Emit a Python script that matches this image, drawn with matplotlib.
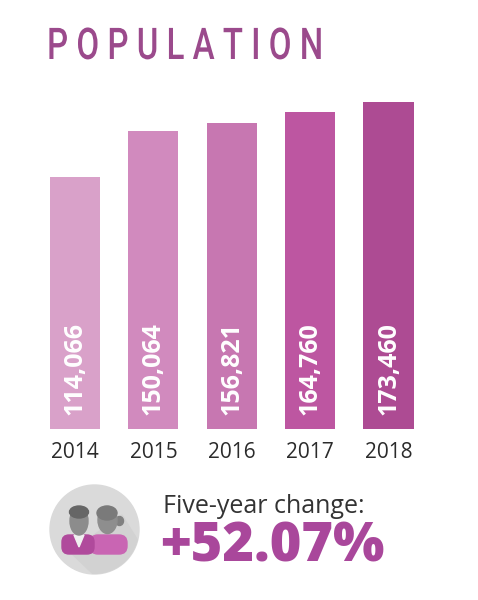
import matplotlib.pyplot as plt
from matplotlib.patches import Circle, Ellipse, FancyBboxPatch, Polygon
from matplotlib.patheffects import AbstractPathEffect
from matplotlib.transforms import Affine2D
import numpy as np

years = ["2014", "2015", "2016", "2017", "2018"]
population = [114066, 150064, 156821, 164760, 173460]
bar_colors = ["#d9a1c9", "#d18abe", "#c777b1", "#bd56a1", "#ad4b93"]
title = "POPULATION"
change_label = "Five-year change:"
change_value = "+52.07%"

base = -85800  # bars start below zero, as in the source graphic


class Squeeze(AbstractPathEffect):
    """Draws text glyphs narrower, scaling x about the text origin."""
    def __init__(self, sx=1.0):
        super().__init__()
        self.sx = sx

    def draw_path(self, renderer, gc, tpath, affine, rgbFace=None):
        a = Affine2D().scale(self.sx, 1.0) + affine
        renderer.draw_path(gc, tpath, a, rgbFace)


fig = plt.figure(figsize=(4.78, 6.0), dpi=100)
fig.patch.set_facecolor("white")

ax = fig.add_axes([0.0749, 0.285, 0.820, 0.5817])
x = np.arange(len(years))
heights = [v - base for v in population]
ax.bar(x, heights, bottom=base, width=0.64, color=bar_colors)
ax.set_xlim(-0.5, len(years) - 0.5)
ax.set_ylim(base, 190500)
ax.axis("off")

for i, v in enumerate(population):
    ax.annotate(f"{v:,}", xy=(i, base), xytext=(0, 10), textcoords="offset points",
                rotation=90, ha="center", va="bottom", color="white",
                fontsize=18, fontweight="bold", family=["Open Sans", "DejaVu Sans"])
    ax.annotate(years[i], xy=(i, base), xytext=(0, -9), textcoords="offset points",
                ha="center", va="top", color="#2b2b2b", fontsize=15,
                family=["Open Sans", "DejaVu Sans"])

# overlay in pixel coords for title and icon
ov = fig.add_axes([0, 0, 1, 1])
ov.set_xlim(0, 478)
ov.set_ylim(600, 0)
ov.axis("off")
ov.patch.set_alpha(0)

# condensed, letter-spaced title
t = ov.text(47, 59, " ".join(title), ha="left", va="baseline", fontsize=31.5,
            fontweight="medium", color="#9b4a8c", family=["Roboto", "DejaVu Sans"])
fig.canvas.draw()
w = t.get_window_extent().width
t.set_path_effects([Squeeze(276.0 / w)])

# person icon
disc = Circle((94.5, 529.5), 44.5, color="#dadada")
ov.add_patch(disc)
shadow = Polygon([(70, 552), (122, 515), (150, 560), (110, 590)], closed=True,
                 color="#d2d2d2")
ov.add_patch(shadow)
shadow.set_clip_path(disc)
# woman
ov.add_patch(FancyBboxPatch((90, 535), 37, 19, boxstyle="round,pad=0,rounding_size=8",
                            color="#c965b3"))
ov.add_patch(Ellipse((119.5, 521), 8, 9, color="#808080"))
ov.add_patch(Ellipse((107.5, 520), 19, 27, color="#8e8e8e"))
ov.add_patch(Ellipse((107, 513), 20, 14, color="#7a7a7a"))
# man
ov.add_patch(FancyBboxPatch((62, 535), 32, 19, boxstyle="round,pad=0,rounding_size=7",
                            color="#b04a9c"))
ov.add_patch(Polygon([(74, 535), (79, 547), (84, 535)], closed=True, color="#f0f0f0"))
ov.add_patch(Ellipse((79, 521), 18, 28, color="#8c8c8c"))
ov.add_patch(Ellipse((79, 512), 19, 12, color="#666666"))

ov.text(163, 513, change_label, ha="left", va="baseline", fontsize=18,
        color="#333333", family=["Open Sans", "DejaVu Sans"])
ov.text(160, 562, change_value, ha="left", va="baseline", fontsize=39,
        fontweight="heavy", color="#a9479b", family=["Open Sans", "DejaVu Sans"])

fig.savefig("out.png", dpi=100)
